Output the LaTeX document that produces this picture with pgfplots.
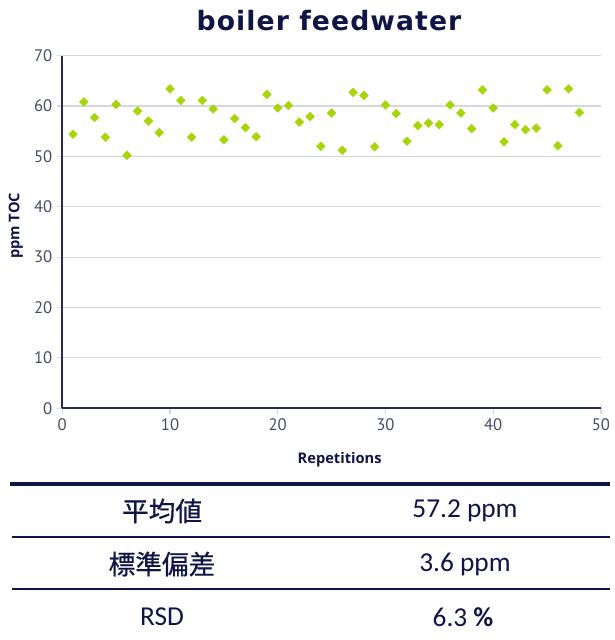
\documentclass[border=0pt]{standalone}
\usepackage{pgfplots}
\pgfplotsset{compat=1.18}
\usepackage{fontspec}
\setmainfont{PT Sans}
\newfontfamily\tabfont{Carlito}
\newfontfamily\cjk[FakeBold=0.6]{Noto Sans CJK JP}
\newfontfamily\titlefont[LetterSpace=4]{DejaVu Sans}
\newfontfamily\labfont{Open Sans}
\definecolor{navy}{HTML}{0F1646}
\definecolor{ticktxt}{HTML}{454A66}
\definecolor{axisc}{HTML}{262B55}
\definecolor{gridc}{HTML}{D5D8E0}
\definecolor{mk}{HTML}{A6D60A}
\begin{document}
\begin{tikzpicture}
\begin{scope}[x=0.75pt,y=0.75pt]
\path (0,0) rectangle (610,640);
\node[font=\titlefont\bfseries\fontsize{20}{24}\selectfont, text=navy] at (329,619) {boiler feedwater};
\draw[navy, line width=3pt] (10,156) -- (610,156);
\draw[navy, line width=1.8pt] (12,103) -- (610,103);
\draw[navy, line width=1.8pt] (12,51) -- (610,51);
\node[font=\cjk\fontsize{20}{24}\selectfont, text=navy] at (162,129) {平均値};
\node[font=\cjk\fontsize{20}{24}\selectfont, text=navy] at (162,76) {標準偏差};
\node[font=\tabfont\fontsize{20.5}{24}\selectfont, text=navy] at (162,23) {RSD};
\node[font=\tabfont\fontsize{20.5}{24}\selectfont, text=navy] at (465,129) {57.2 ppm};
\node[font=\tabfont\fontsize{20.5}{24}\selectfont, text=navy] at (465,76) {3.6 ppm};
\node[font=\tabfont\fontsize{20.5}{24}\selectfont, text=navy] at (463,23) {6.3 {\bfseries\%}};
\end{scope}
\begin{axis}[
  scale only axis, width=404pt, height=264.5pt,
  at={(46.7pt,173.8pt)}, anchor=south west,
  xmin=0, xmax=50, ymin=0, ymax=70,
  xtick={0,10,...,50}, ytick={0,10,...,70},
  axis x line*=bottom, axis y line*=left,
  axis line style={axisc, line width=1.5pt},
  ymajorgrids, grid style={gridc, line width=0.9pt},
  tick align=outside, major tick length=4pt,
  tick style={gridc, line width=0.9pt},
  tick label style={font=\fontsize{12.5}{14}\selectfont, text=ticktxt},
  /pgf/number format/assume math mode=true,
  xlabel={Repetitions}, ylabel={ppm TOC},
  label style={font=\labfont\bfseries\fontsize{11}{13}\selectfont, text=navy},
  xlabel style={at={(axis description cs:0.515,-0.1466)}, anchor=center},
  ylabel style={at={(axis description cs:-0.086,0.517)}, anchor=center},
]
\addplot[only marks, mark=square*, mark size=2.3pt, mark options={fill=mk, draw=mk, rotate=45}] coordinates {
(1,54.4) (2,60.8) (3,57.7) (4,53.8) (5,60.3) (6,50.2) (7,59.0) (8,57.0) (9,54.7) (10,63.4)
(11,61.1) (12,53.8) (13,61.1) (14,59.4) (15,53.3) (16,57.5) (17,55.7) (18,53.9) (19,62.3) (20,59.6)
(21,60.1) (22,56.8) (23,57.9) (24,52.0) (25,58.6) (26,51.2) (27,62.7) (28,62.1) (29,51.9) (30,60.2)
(31,58.5) (32,53.0) (33,56.1) (34,56.6) (35,56.3) (36,60.2) (37,58.6) (38,55.5) (39,63.2) (40,59.6)
(41,52.9) (42,56.3) (43,55.3) (44,55.6) (45,63.2) (46,52.1) (47,63.4) (48,58.7)
};
\end{axis}
\end{tikzpicture}
\end{document}
